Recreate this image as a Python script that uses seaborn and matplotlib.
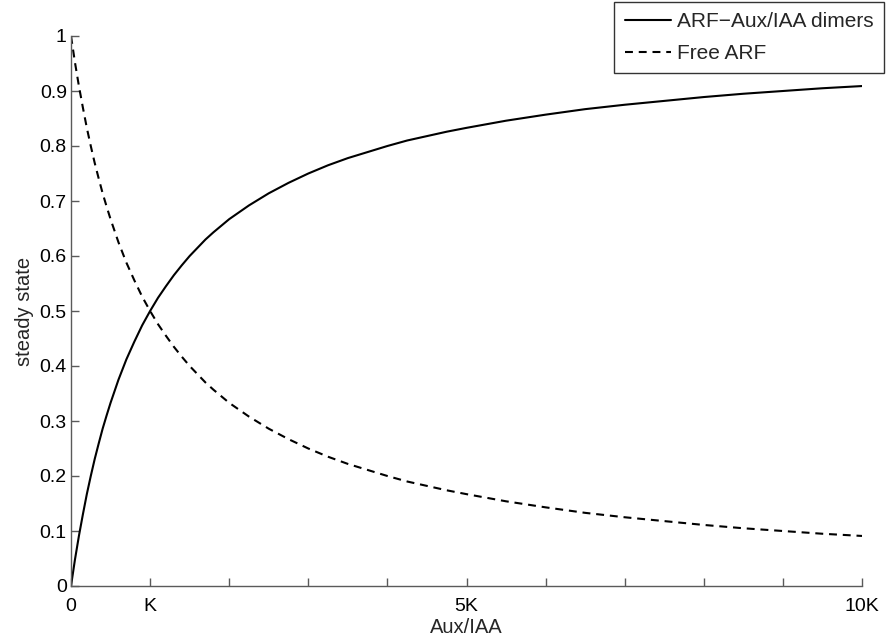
import pandas as pd
import matplotlib
matplotlib.use("Agg")
import matplotlib.pyplot as plt
import seaborn as sns

# values (x in units of K)
aux_iaa = [0, 0.05, 0.1, 0.15, 0.2, 0.25, 0.3, 0.35, 0.4, 0.45, 0.5,
           0.6, 0.7, 0.8, 0.9, 1.0, 1.1, 1.2, 1.3, 1.4, 1.5, 1.6, 1.7, 1.8,
           1.9, 2.0, 2.25, 2.5, 2.75, 3.0, 3.25, 3.5, 3.75, 4.0, 4.25, 4.5,
           4.75, 5.0, 5.5, 6.0, 6.5, 7.0, 7.5, 8.0, 8.5, 9.0, 9.5, 10.0]
dimers = [0, 0.048, 0.091, 0.13, 0.167, 0.2, 0.231, 0.259, 0.286, 0.31, 0.333,
          0.375, 0.412, 0.444, 0.474, 0.5, 0.524, 0.545, 0.565, 0.583, 0.6,
          0.615, 0.63, 0.643, 0.655, 0.667, 0.692, 0.714, 0.733, 0.75, 0.765,
          0.778, 0.789, 0.8, 0.81, 0.818, 0.826, 0.833, 0.846, 0.857, 0.867,
          0.875, 0.882, 0.889, 0.895, 0.9, 0.905, 0.909]
free_arf = [1.0, 0.952, 0.909, 0.87, 0.833, 0.8, 0.769, 0.741, 0.714, 0.69,
            0.667, 0.625, 0.588, 0.556, 0.526, 0.5, 0.476, 0.455, 0.435,
            0.417, 0.4, 0.385, 0.37, 0.357, 0.345, 0.333, 0.308, 0.286,
            0.267, 0.25, 0.235, 0.222, 0.211, 0.2, 0.19, 0.182, 0.174, 0.167,
            0.154, 0.143, 0.133, 0.125, 0.118, 0.111, 0.105, 0.1, 0.095, 0.091]

x_ticks = [0, 1, 5, 10]
x_ticklabels = ["0", "K", "5K", "10K"]
minor_ticks = [2, 3, 4, 6, 7, 8, 9]
y_ticks = [0, 0.1, 0.2, 0.3, 0.4, 0.5, 0.6, 0.7, 0.8, 0.9, 1]
y_ticklabels = ["0", "0.1", "0.2", "0.3", "0.4", "0.5", "0.6", "0.7", "0.8", "0.9", "1"]

sns.set_style("ticks")
plt.rcParams["font.family"] = ["Liberation Sans", "DejaVu Sans"]

df = pd.DataFrame({"x": aux_iaa, "dimers": dimers, "free": free_arf})

fig = plt.figure(figsize=(8.89, 6.39), dpi=100)
ax = fig.add_axes([71 / 889, 1 - 586 / 639, 791 / 889, 550 / 639])

sns.lineplot(data=df, x="x", y="dimers", ax=ax, color="black", linewidth=1.5,
             label="ARF\u2212Aux/IAA dimers", sort=False)
sns.lineplot(data=df, x="x", y="free", ax=ax, color="black", linewidth=1.5,
             linestyle=(0, (3.8, 2.8)), label="Free ARF", sort=False)

ax.set_xlim(0, 10)
ax.set_ylim(0, 1)
ax.set_xticks(x_ticks)
ax.set_xticklabels(x_ticklabels)
ax.set_xticks(minor_ticks, minor=True)
ax.set_yticks(y_ticks)
ax.set_yticklabels(y_ticklabels)

axis_col = "#5a5a5a"
for side in ["top", "right"]:
    ax.spines[side].set_visible(False)
for side in ["left", "bottom"]:
    ax.spines[side].set_color(axis_col)
    ax.spines[side].set_linewidth(1.0)
ax.tick_params(which="both", direction="in", length=6, width=1.0,
               color=axis_col, labelsize=14, labelcolor="black")
ax.tick_params(axis="y", pad=3)
ax.tick_params(axis="x", pad=8.5)

ax.set_xlabel("Aux/IAA", fontsize=14.5, labelpad=2)
ax.set_ylabel("steady state", fontsize=14.5, labelpad=4)

leg = ax.legend(loc="upper right", bbox_to_anchor=(884 / 889, 1 - 2 / 639),
                bbox_transform=fig.transFigure, fontsize=15, frameon=True,
                fancybox=False, edgecolor="black", handlelength=2.2,
                borderpad=0.5, labelspacing=0.6, handletextpad=0.3,
                borderaxespad=0)
leg.get_frame().set_linewidth(1.0)

fig.savefig("out.png", dpi=100)
